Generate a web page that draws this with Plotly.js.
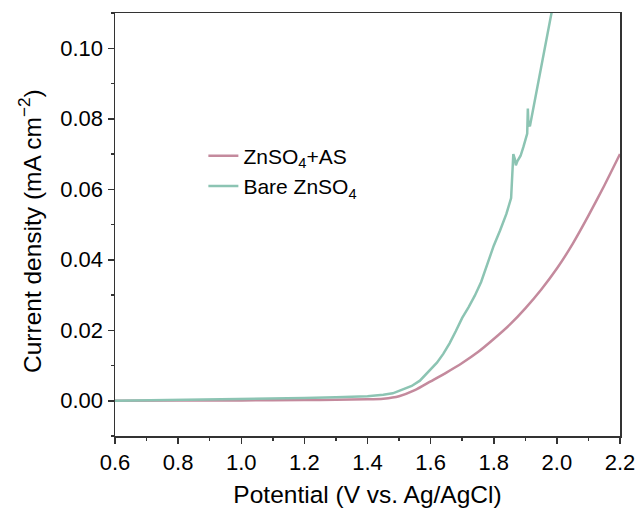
<!DOCTYPE html>
<html>
<head>
<meta charset="utf-8">
<script src="https://cdn.plot.ly/plotly-3.0.1.min.js"></script>
<style>html,body{margin:0;padding:0;background:#fff;}#chart{width:642px;height:512px;}</style>
</head>
<body>
<div id="chart"></div>
<script>
// ZnSO4+AS (pink)
const asPotential = [0.6, 0.8, 1.0, 1.2, 1.3, 1.4, 1.45, 1.5, 1.55, 1.6, 1.65, 1.7, 1.75, 1.8, 1.85, 1.9, 1.95, 2.0, 2.05, 2.1, 2.15, 2.2];
const asCurrent   = [0.0000, 0.0001, 0.0001, 0.0002, 0.0003, 0.0004, 0.0006, 0.0013, 0.0030, 0.0055, 0.0080, 0.0107, 0.0138, 0.0175, 0.0215, 0.0262, 0.0315, 0.0375, 0.0445, 0.0525, 0.0610, 0.0700];
// Bare ZnSO4 (green)
const barePotential = [0.6, 0.8, 1.0, 1.2, 1.3, 1.4, 1.45, 1.48, 1.5, 1.52, 1.54, 1.566, 1.58, 1.6, 1.62, 1.64, 1.66, 1.68, 1.7, 1.72, 1.74, 1.76, 1.78, 1.8, 1.82, 1.84, 1.855, 1.862, 1.867, 1.870, 1.875, 1.885, 1.894, 1.906, 1.908, 1.910, 1.915, 1.936, 1.952, 1.983, 2.0];
const bareCurrent   = [0.0000, 0.0002, 0.0004, 0.0008, 0.0010, 0.0013, 0.0017, 0.0021, 0.0028, 0.0034, 0.0042, 0.0057, 0.0070, 0.0088, 0.0108, 0.0133, 0.0163, 0.0198, 0.0235, 0.0265, 0.0298, 0.0337, 0.0390, 0.0440, 0.0483, 0.0530, 0.0575, 0.0700, 0.0685, 0.0668, 0.0680, 0.0695, 0.0720, 0.0758, 0.0829, 0.0780, 0.0781, 0.0880, 0.0954, 0.1099, 0.1180];
const seriesNames = ['ZnSO<sub>4</sub>+AS', 'Bare ZnSO<sub>4</sub>'];
const xTicks = [0.6, 0.8, 1.0, 1.2, 1.4, 1.6, 1.8, 2.0, 2.2];
const yTicks = [0.00, 0.02, 0.04, 0.06, 0.08, 0.10];
const xTitle = 'Potential (V vs. Ag/AgCl)';
const yTitle = 'Current density (mA cm<sup>−2</sup>)';

const fam = 'Liberation Sans, Arial, sans-serif';
const tickFont = {family: fam, size: 22, color: '#000'};
const titleFont = {family: fam, size: 24.5, color: '#000'};
const traces = [
  {x: asPotential, y: asCurrent, name: seriesNames[0], mode: 'lines', line: {color: '#c48a9d', width: 2.5, shape: 'spline', smoothing: 0.6}},
  {x: barePotential, y: bareCurrent, name: seriesNames[1], mode: 'lines', line: {color: '#8cc4b3', width: 2.5}}
];
const axisCommon = {
  showline: true, mirror: true, linecolor: '#333', linewidth: 1.5,
  ticks: 'outside', ticklen: 6, tickwidth: 1.5, tickcolor: '#333',
  showgrid: false, zeroline: false, tickfont: tickFont
};
const layout = {
  width: 642, height: 512,
  margin: {l: 115, r: 22, t: 13, b: 76},
  paper_bgcolor: '#fff', plot_bgcolor: '#fff',
  font: tickFont,
  showlegend: true,
  legend: {x: 0.175, y: 0.71, xanchor: 'left', yanchor: 'top', bgcolor: 'rgba(0,0,0,0)', font: {family: fam, size: 21, color: '#000'}, tracegroupgap: 0},
  xaxis: Object.assign({}, axisCommon, {
    range: [0.6, 2.2], tickvals: xTicks, ticktext: xTicks.map(v => v.toFixed(1)),
    minor: {dtick: 0.1, tick0: 0.6, ticks: 'outside', ticklen: 3, tickwidth: 1.5, tickcolor: '#333'},
    title: {text: xTitle, font: titleFont, standoff: 12}
  }),
  yaxis: Object.assign({}, axisCommon, {
    range: [-0.01, 0.11], tickvals: yTicks, ticktext: yTicks.map(v => v.toFixed(2)),
    minor: {dtick: 0.01, tick0: 0, ticks: 'outside', ticklen: 3, tickwidth: 1.5, tickcolor: '#333'}
  }),
  annotations: [{
    text: yTitle, textangle: -90, font: titleFont, showarrow: false,
    xref: 'paper', yref: 'paper', x: -0.168, y: 0.485, xanchor: 'center', yanchor: 'middle'
  }]
};
Plotly.newPlot('chart', traces, layout, {staticPlot: true});
</script>
</body>
</html>
